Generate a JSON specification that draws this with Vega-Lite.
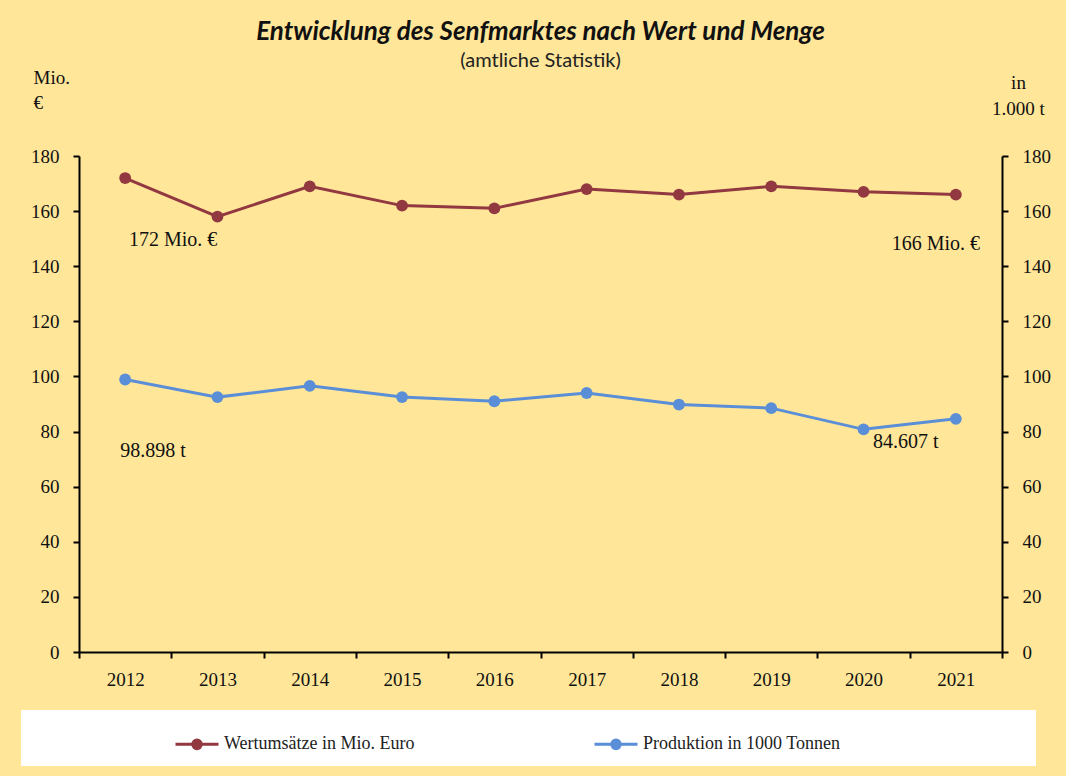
{
  "$schema": "https://vega.github.io/schema/vega-lite/v6.json",
  "width": 1066,
  "height": 776,
  "autosize": {"type": "fit", "contains": "padding"},
  "padding": {"left": 30, "right": 15, "top": 19, "bottom": 87},
  "background": "#FFE699",
  "title": {
    "text": "Entwicklung des Senfmarktes nach Wert und Menge",
    "subtitle": "(amtliche Statistik)",
    "font": "Lato",
    "fontSize": 26,
    "fontStyle": "italic",
    "fontWeight": "bold",
    "color": "#111111",
    "subtitleFont": "Lato",
    "subtitleFontSize": 20,
    "subtitleColor": "#222222",
    "subtitlePadding": 6,
    "anchor": "middle",
    "offset": -3
  },
  "config": {
    "view": {"stroke": null},
    "axis": {
      "domainColor": "#000000",
      "domainWidth": 2,
      "tickColor": "#000000",
      "tickWidth": 2,
      "tickSize": 6,
      "labelFont": "Liberation Serif",
      "labelFontSize": 19,
      "labelColor": "#111111",
      "titleFont": "Liberation Serif",
      "titleFontSize": 19,
      "titleFontWeight": "normal",
      "titleColor": "#111111",
      "grid": false
    }
  },
  "datasets": {
    "market": [
      {"year": "2012", "series": "Wertumsätze in Mio. Euro", "value": 172},
      {"year": "2013", "series": "Wertumsätze in Mio. Euro", "value": 158},
      {"year": "2014", "series": "Wertumsätze in Mio. Euro", "value": 169},
      {"year": "2015", "series": "Wertumsätze in Mio. Euro", "value": 162},
      {"year": "2016", "series": "Wertumsätze in Mio. Euro", "value": 161},
      {"year": "2017", "series": "Wertumsätze in Mio. Euro", "value": 168},
      {"year": "2018", "series": "Wertumsätze in Mio. Euro", "value": 166},
      {"year": "2019", "series": "Wertumsätze in Mio. Euro", "value": 169},
      {"year": "2020", "series": "Wertumsätze in Mio. Euro", "value": 167},
      {"year": "2021", "series": "Wertumsätze in Mio. Euro", "value": 166},
      {"year": "2012", "series": "Produktion in 1000 Tonnen", "value": 98.898},
      {"year": "2013", "series": "Produktion in 1000 Tonnen", "value": 92.5},
      {"year": "2014", "series": "Produktion in 1000 Tonnen", "value": 96.6},
      {"year": "2015", "series": "Produktion in 1000 Tonnen", "value": 92.5},
      {"year": "2016", "series": "Produktion in 1000 Tonnen", "value": 91.0},
      {"year": "2017", "series": "Produktion in 1000 Tonnen", "value": 94.0},
      {"year": "2018", "series": "Produktion in 1000 Tonnen", "value": 89.8},
      {"year": "2019", "series": "Produktion in 1000 Tonnen", "value": 88.5},
      {"year": "2020", "series": "Produktion in 1000 Tonnen", "value": 80.8},
      {"year": "2021", "series": "Produktion in 1000 Tonnen", "value": 84.607}
    ],
    "notes": [
      {"year": "2012", "series": "Wertumsätze in Mio. Euro", "value": 172, "label": "172 Mio. €"},
      {"year": "2021", "series": "Wertumsätze in Mio. Euro", "value": 166, "label": "166 Mio. €"},
      {"year": "2012", "series": "Produktion in 1000 Tonnen", "value": 98.898, "label": "98.898 t"},
      {"year": "2021", "series": "Produktion in 1000 Tonnen", "value": 84.607, "label": "84.607 t"}
    ]
  },
  "encoding": {
    "x": {
      "field": "year",
      "type": "ordinal",
      "scale": {"type": "band", "paddingInner": 0, "paddingOuter": 0},
      "axis": {
        "title": null,
        "labelAngle": 0,
        "tickBand": "extent",
        "labelPadding": 12
      }
    }
  },
  "layer": [
    {
      "encoding": {
        "y": {
          "field": "value",
          "type": "quantitative",
          "scale": {"domain": [0, 180], "nice": false},
          "axis": {
            "orient": "left",
            "values": [0, 20, 40, 60, 80, 100, 120, 140, 160, 180],
            "labelPadding": 14,
            "title": ["Mio.", "€"],
            "titleAngle": 0,
            "titleAlign": "left",
            "titleBaseline": "top",
            "titleLineHeight": 25,
            "titleX": -46,
            "titleY": -88
          }
        }
      },
      "layer": [
        {
          "data": {"name": "market"},
          "transform": [{"filter": "datum.series === 'Wertumsätze in Mio. Euro'"}],
          "mark": {"type": "line", "strokeWidth": 3, "point": {"filled": true, "size": 140, "opacity": 1}},
          "encoding": {
            "color": {
              "field": "series",
              "type": "nominal",
              "scale": {
                "domain": ["Wertumsätze in Mio. Euro", "Produktion in 1000 Tonnen"],
                "range": ["#923840", "#5A8FD8"]
              },
              "legend": {
                "orient": "none",
                "direction": "horizontal",
                "legendX": -58,
                "legendY": 554,
                "fillColor": "#FFFFFF",
                "padding": 11,
                "title": null,
                "labelFont": "Liberation Serif",
                "labelFontSize": 18,
                "labelColor": "#222222",
                "labelLimit": 800,
                "labelExpr": "datum.label === 'Produktion in 1000 Tonnen' ? datum.label + '\u00a0\u00a0\u00a0\u00a0\u00a0\u00a0\u00a0\u00a0\u00a0\u00a0\u00a0\u00a0\u00a0\u00a0\u00a0\u00a0\u00a0\u00a0\u00a0\u00a0\u00a0\u00a0\u00a0\u00a0\u00a0\u00a0\u00a0\u00a0\u00a0\u00a0\u00a0\u00a0\u00a0\u00a0\u00a0\u00a0\u00a0\u00a0\u00a0\u00a0\u00a0\u200b' : datum.label",
                "labelOffset": 4,
                "symbolType": "M-1,0L1,0M-0.2,0A0.2,0.2 0 1,0 0.2,0A0.2,0.2 0 1,0 -0.2,0Z",
                "symbolSize": 1849,
                "symbolStrokeWidth": 3,
                "symbolOffset": 142,
                "columnPadding": 36,
                "encode": {
                  "symbols": {
                    "update": {
                      "fill": {"scale": "color", "field": "value"},
                      "stroke": {"scale": "color", "field": "value"},
                      "strokeWidth": {"value": 3},
                      "opacity": {"value": 1}
                    }
                  }
                }
              }
            }
          }
        },
        {
          "data": {"name": "notes"},
          "transform": [{"filter": "datum.label === '172 Mio. €'"}],
          "mark": {"type": "text", "font": "Liberation Serif", "fontSize": 20, "color": "#111111", "align": "center", "baseline": "middle", "dx": 48, "dy": 62},
          "encoding": {"text": {"field": "label"}}
        },
        {
          "data": {"name": "notes"},
          "transform": [{"filter": "datum.label === '166 Mio. €'"}],
          "mark": {"type": "text", "font": "Liberation Serif", "fontSize": 20, "color": "#111111", "align": "center", "baseline": "middle", "dx": -20, "dy": 49},
          "encoding": {"text": {"field": "label"}}
        }
      ]
    },
    {
      "encoding": {
        "y": {
          "field": "value",
          "type": "quantitative",
          "scale": {"domain": [0, 180], "nice": false},
          "axis": {
            "orient": "right",
            "values": [0, 20, 40, 60, 80, 100, 120, 140, 160, 180],
            "labelPadding": 14,
            "title": ["in", "1.000 t"],
            "titleAngle": 0,
            "titleAlign": "center",
            "titleBaseline": "top",
            "titleLineHeight": 26,
            "titleX": 16,
            "titleY": -83
          }
        }
      },
      "layer": [
        {
          "data": {"name": "market"},
          "transform": [{"filter": "datum.series === 'Produktion in 1000 Tonnen'"}],
          "mark": {"type": "line", "strokeWidth": 3, "point": {"filled": true, "size": 140, "opacity": 1}},
          "encoding": {
            "color": {"field": "series", "type": "nominal"}
          }
        },
        {
          "data": {"name": "notes"},
          "transform": [{"filter": "datum.label === '98.898 t'"}],
          "mark": {"type": "text", "font": "Liberation Serif", "fontSize": 20, "color": "#111111", "align": "center", "baseline": "middle", "dx": 28, "dy": 72},
          "encoding": {"text": {"field": "label"}}
        },
        {
          "data": {"name": "notes"},
          "transform": [{"filter": "datum.label === '84.607 t'"}],
          "mark": {"type": "text", "font": "Liberation Serif", "fontSize": 20, "color": "#111111", "align": "center", "baseline": "middle", "dx": -50, "dy": 23},
          "encoding": {"text": {"field": "label"}}
        }
      ]
    }
  ],
  "resolve": {"scale": {"y": "independent"}}
}
